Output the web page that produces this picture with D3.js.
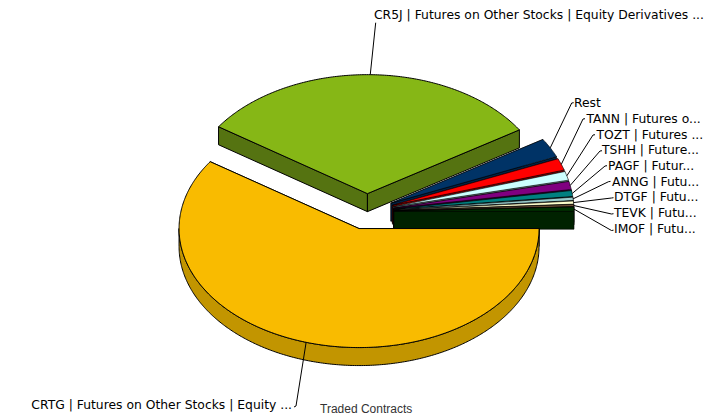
<!DOCTYPE html>
<html><head><meta charset="utf-8">
<script src="https://cdn.jsdelivr.net/npm/d3@7"></script>
<style>html,body{margin:0;padding:0;background:#fff}svg{display:block}</style>
</head><body><svg id="c" width="726" height="419"></svg>
<script>
const labels = ["CRTG | Futures on Other Stocks | Equity ...","CR5J | Futures on Other Stocks | Equity Derivatives ...","Rest","TANN | Futures o...","TOZT | Futures ...","TSHH | Future...","PAGF | Futur...","ANNG | Futu...","DTGF | Futu...","TEVK | Futu...","IMOF | Futu..."];
const values = [59.5,31.5,2.6,1.6,1.2,1.1,0.8,0.45,0.42,0.27,0.56];
const faceColors = ["#f9bb00","#86b716","#003366","#ff0000","#ccffff","#800080","#008080","#99cccc","#ffffcc","#7a5a3c","#003300"];
const wallColors = ["#c29500","#557311","#002244","#990000","#88aaaa","#550055","#005555","#668888","#aaaa88","#503c28","#002200"];
const title = "Traded Contracts";

// layout (not data)
const W=726,H=419,CX=367,CY=211.5,RX=180,RY=119,DEPTH=18,EXPLODE=27,K=RY/RX;
const labelX=[292,374,574,586.5,596.5,602,608,612,614,614,614];
const labelY=[405,15,103,118.5,134.5,149.5,165.5,181.5,197,213,229];
const anchors=[[296,406],[375.7,22.7],[571.7,103],[583,119],[593,135],[600,151],[605,166],[608.5,181.7],[611.5,198],[611.5,214],[611.5,230.5]];

const svg=d3.select("#c");
const pie=d3.pie().sort(null).startAngle(Math.PI/2).endAngle(Math.PI/2+2*Math.PI).value(d=>d);
const arcs=pie(values).map((a,i)=>{
  const t0=a.startAngle-Math.PI/2,t1=a.endAngle-Math.PI/2,m=(t0+t1)/2;
  return {i,t0,t1,m,cx:CX+EXPLODE*Math.cos(m),cy:CY+EXPLODE*K*Math.sin(m)};
});
const pt=(s,t,r=1,dz=0)=>[s.cx+RX*r*Math.cos(t),s.cy+RY*r*Math.sin(t)+dz];
const line=d3.line();
const outline=(s,a,b,dz=0)=>{
  const n=Math.max(2,Math.ceil((b-a)/0.01));
  return d3.range(n+1).map(j=>pt(s,a+(b-a)*j/n,1,dz));
};
function paint(sel,w){return sel.attr("stroke","#000").attr("stroke-width",w).attr("stroke-linejoin","round");}

function drawSlice(s){
  const g=svg.append("g");
  const wall=wallColors[s.i];
  const w=s.i>=2?0.6:1;
  const quad=t=>{
    const c=[s.cx,s.cy],c2=[s.cx,s.cy+DEPTH],p=pt(s,t),p2=pt(s,t,1,DEPTH);
    paint(g.append("path").attr("d",line([c,p,p2,c2])+"Z").attr("fill",wall),w);
  };
  quad(s.t0);quad(s.t1);
  const a=Math.max(s.t0,0),b=Math.min(s.t1,Math.PI);
  if(b>a){
    const top=outline(s,a,b),bot=outline(s,a,b,DEPTH).reverse();
    paint(g.append("path").attr("d",line(top.concat(bot))+"Z").attr("fill",wall),w);
  }
  const face=[[s.cx,s.cy]].concat(outline(s,s.t0,s.t1));
  paint(g.append("path").attr("d",line(face)+"Z").attr("fill",faceColors[s.i]),w);
}
arcs.slice(1).forEach(drawSlice);
drawSlice(arcs[0]);

arcs.forEach(s=>{
  const p=pt(s,s.m),an=anchors[s.i];
  const pts=[p,an];
  if(s.i>=2) pts.push([an[0]+2,an[1]-0.3]);
  if(s.i===0) pts.push([an[0]-2,an[1]+1]);
  svg.append("path").attr("d",line(pts)).attr("fill","none").attr("stroke","#000").attr("stroke-width",1);
});
svg.append("g").selectAll("text").data(labels).join("text")
  .attr("x",(d,i)=>labelX[i]).attr("y",(d,i)=>labelY[i]).attr("dy","0.36em")
  .attr("text-anchor",(d,i)=>i===0?"end":"start")
  .attr("font-family","'DejaVu Sans',Verdana,sans-serif").attr("font-size",12.35).attr("fill","#000")
  .text(d=>d);
svg.append("text").attr("x",320).attr("y",413).attr("font-family","'Liberation Sans',Arial,sans-serif")
  .attr("font-size",12).attr("fill","#333").text(title);
</script></body></html>
